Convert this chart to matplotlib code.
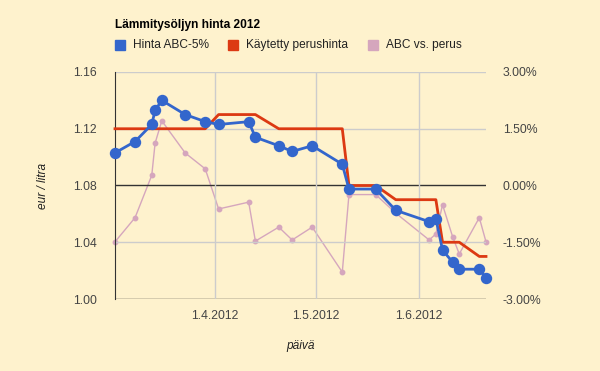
import numpy as np
import pandas as pd
import matplotlib
matplotlib.use("Agg")
import matplotlib.pyplot as plt
import matplotlib.dates as mdates
from matplotlib.patches import Rectangle

# data
dates = pd.to_datetime([
    "2012-03-02", "2012-03-08", "2012-03-13", "2012-03-14", "2012-03-16",
    "2012-03-23", "2012-03-29", "2012-04-02", "2012-04-11", "2012-04-13",
    "2012-04-20", "2012-04-24", "2012-04-30", "2012-05-09", "2012-05-11",
    "2012-05-19", "2012-05-25", "2012-06-04", "2012-06-06", "2012-06-08",
    "2012-06-11", "2012-06-13", "2012-06-19", "2012-06-21"])
abc_price = [1.103, 1.111, 1.123, 1.133, 1.140, 1.130, 1.125, 1.123,
             1.125, 1.114, 1.108, 1.104, 1.108, 1.095, 1.0775, 1.0775,
             1.0625, 1.0545, 1.0566, 1.0345, 1.026, 1.021, 1.021, 1.015]
base_price = [1.12, 1.12, 1.12, 1.12, 1.12, 1.12, 1.12, 1.13,
              1.13, 1.13, 1.12, 1.12, 1.12, 1.12, 1.08, 1.08,
              1.07, 1.07, 1.07, 1.04, 1.04, 1.04, 1.03, 1.03]
abc_vs_base = [-1.49, -0.85, 0.27, 1.12, 1.71, 0.86, 0.44, -0.62,
               -0.44, -1.47, -1.10, -1.44, -1.10, -2.29, -0.24, -0.24,
               -0.73, -1.44, -1.28, -0.51, -1.35, -1.81, -0.85, -1.49]

series_names = ["Hinta ABC-5%", "Käytetty perushinta", "ABC vs. perus"]
left_ticks = [1.00, 1.04, 1.08, 1.12, 1.16]
right_ticks = [-3.0, -1.5, 0.0, 1.5, 3.0]
month_ticks = pd.to_datetime(["2012-04-01", "2012-05-01", "2012-06-01"])

bg = "#fef2cd"
blue = "#3366cc"
red = "#dc3912"
pink = "#d5a6bd"
grid_c = "#cccccc"
txt = "#444444"

plt.rcParams["font.family"] = ["Liberation Sans", "DejaVu Sans"]
plt.rcParams["font.size"] = 8.6

fig = plt.figure(figsize=(6, 3.71), dpi=100, facecolor=bg)
ax = fig.add_axes([115 / 600, 72 / 371, 371 / 600, 227 / 371])
ax.set_facecolor(bg)
ax2 = ax.twinx()

# grid
for v in left_ticks:
    dark = v in (1.00, 1.08)
    ax.axhline(v, color="#333333" if dark else grid_c, lw=1, zorder=1)
for d in month_ticks:
    ax.axvline(d, color=grid_c, lw=1, zorder=1)

# series
ax2.plot(dates, abc_vs_base, color=pink, lw=1, marker="o", ms=3.2,
         zorder=2, clip_on=False)
ax.plot(dates, base_price, color=red, lw=2, zorder=3, clip_on=False)
ax.plot(dates, abc_price, color=blue, lw=2, marker="o", ms=7.2,
        zorder=4, clip_on=False)
ax.set_zorder(ax2.get_zorder() + 1)
ax.patch.set_visible(False)
ax2.patch.set_facecolor(bg)
ax2.patch.set_visible(True)

ax.set_xlim(dates[0], dates[-1])
ax.set_ylim(1.00, 1.16)
ax2.set_ylim(-3, 3)

ax.set_yticks(left_ticks)
ax.set_yticklabels(["%.2f" % v for v in left_ticks])
ax2.set_yticks(right_ticks)
ax2.set_yticklabels(["%.2f%%" % v for v in right_ticks])
ax.set_xticks(month_ticks)
ax.set_xticklabels([f"{d.day}.{d.month}.{d.year}" for d in month_ticks])

for a in (ax, ax2):
    for s in a.spines.values():
        s.set_visible(False)
    a.tick_params(length=0, colors=txt, labelsize=8.8)
ax.spines["left"].set_visible(True)
ax.spines["left"].set_color("#333333")
ax.tick_params(axis="y", pad=13)
ax.tick_params(axis="x", pad=8)
ax2.tick_params(axis="y", pad=12)

ax.set_ylabel("eur / litra", style="italic", color="#222222", labelpad=17)
ax.set_xlabel("päivä", style="italic", color="#222222", labelpad=13)

# title and legend
fig.text(115 / 600, 1 - 25 / 371, "Lämmitysöljyn hinta 2012", weight="bold",
         va="center", ha="left", color="black")
leg_x = [115, 228, 368]
for x, c, name in zip(leg_x, [blue, red, pink], series_names):
    fig.patches.append(Rectangle((x / 600, 1 - 50 / 371), 10 / 600, 10 / 371,
                                 transform=fig.transFigure, color=c))
    fig.text((x + 18) / 600, 1 - 45 / 371, name, va="center", ha="left",
             color="#222222")

fig.savefig("out.png", dpi=100, facecolor=bg)
